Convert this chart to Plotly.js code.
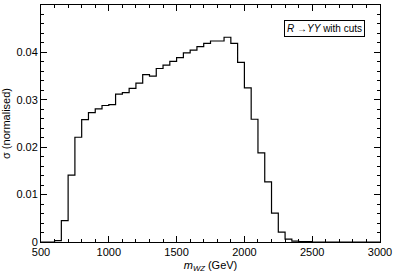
<!DOCTYPE html>
<html>
<head>
<meta charset="utf-8">
<script src="https://cdn.plot.ly/plotly-3.0.1.min.js"></script>
<style>
  html, body { margin: 0; padding: 0; background: #fff; }
  #plot { width: 393px; height: 273px; }
</style>
</head>
<body>
<div id="plot"></div>
<script>
// bin edges in GeV, 50 GeV wide, from 500 to 3000
var binLow = 500;
var binWidth = 50;
var sigma = [
  0, 0, 0.0003, 0.0045, 0.0141, 0.0221, 0.0258, 0.0273, 0.0281, 0.0288,
  0.0290, 0.0312, 0.0315, 0.0324, 0.0335, 0.0353, 0.0350, 0.0366, 0.0373, 0.0381,
  0.0389, 0.0399, 0.0405, 0.0412, 0.0419, 0.0424, 0.0424, 0.0432, 0.0419, 0.0379,
  0.0325, 0.0259, 0.0188, 0.0127, 0.0061, 0.0021, 0.0006, 0.0002, 0.0001, 0.0001,
  0, 0, 0, 0, 0, 0, 0, 0, 0, 0
];
var xTicks = [500, 1000, 1500, 2000, 2500, 3000];
var yTicks = [0, 0.01, 0.02, 0.03, 0.04, 0.05];
var yTickText = ['0', '0.01', '0.02', '0.03', '0.04', '0.05'];

var edges = [];
var vals = [];
for (var i = 0; i < sigma.length; i++) {
  edges.push(binLow + i * binWidth);
  vals.push(sigma[i]);
}
// close the last bin
edges.push(binLow + sigma.length * binWidth);
vals.push(sigma[sigma.length - 1]);

var font = {family: 'Liberation Sans, Arial, sans-serif', size: 11, color: '#000'};

var trace = {
  x: edges,
  y: vals,
  type: 'scatter',
  mode: 'lines',
  line: {shape: 'hv', color: '#000', width: 1.2},
  hoverinfo: 'none'
};

// empty trace so the top/right tick axes get drawn
var frame = {
  x: [], y: [], xaxis: 'x2', yaxis: 'y2',
  type: 'scatter', mode: 'lines', hoverinfo: 'none'
};

var axisCommon = {
  showline: true,
  linecolor: '#000',
  linewidth: 1,
  ticks: 'inside',
  ticklen: 6,
  tickwidth: 1,
  tickcolor: '#000',
  showgrid: false,
  zeroline: false,
  tickfont: font
};

var xMinor = {dtick: 100, ticks: 'inside', ticklen: 3, tickcolor: '#000', showgrid: false};
var yMinor = {dtick: 0.002, ticks: 'inside', ticklen: 3, tickcolor: '#000', showgrid: false};

var layout = {
  width: 393,
  height: 273,
  margin: {l: 41, r: 13, t: 5, b: 31},
  paper_bgcolor: '#fff',
  plot_bgcolor: '#fff',
  showlegend: false,
  font: font,
  xaxis: Object.assign({}, axisCommon, {
    range: [500, 3000],
    tickvals: xTicks,
    ticktext: xTicks.map(String),
    minor: xMinor,
    title: {text: '<i>m</i><sub><i>WZ</i></sub> (GeV)', font: font, standoff: 4}
  }),
  yaxis: Object.assign({}, axisCommon, {
    range: [0, 0.05],
    tickvals: yTicks,
    ticktext: yTickText,
    minor: yMinor,
    title: {text: 'σ (normalised)', font: font, standoff: 4}
  }),
  xaxis2: Object.assign({}, axisCommon, {
    range: [500, 3000],
    overlaying: 'x',
    side: 'top',
    tickvals: xTicks,
    showticklabels: false,
    minor: xMinor
  }),
  yaxis2: Object.assign({}, axisCommon, {
    range: [0, 0.05],
    overlaying: 'y',
    side: 'right',
    tickvals: yTicks,
    showticklabels: false,
    minor: yMinor
  }),
  annotations: [{
    xref: 'paper', yref: 'paper',
    x: 0.955, y: 0.935,
    xanchor: 'right', yanchor: 'top',
    text: '<i>R</i> →<i>YY</i> with cuts',
    showarrow: false,
    font: {family: 'Liberation Sans, Arial, sans-serif', size: 10, color: '#000'},
    bordercolor: '#000',
    borderwidth: 1,
    borderpad: 2,
    bgcolor: '#fff'
  }]
};

Plotly.newPlot('plot', [trace, frame], layout, {staticPlot: true, displayModeBar: false});
</script>
</body>
</html>
